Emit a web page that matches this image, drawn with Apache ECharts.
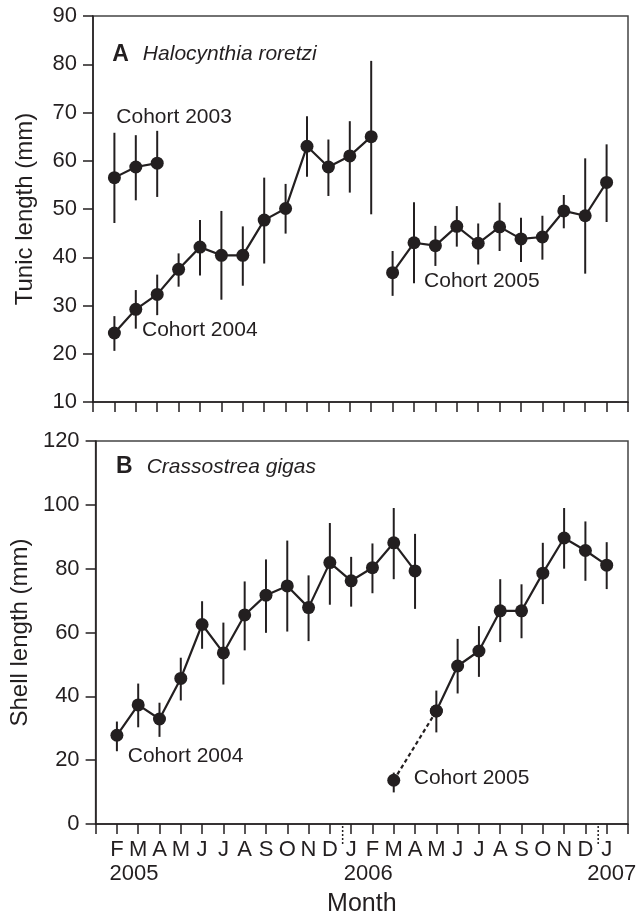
<!DOCTYPE html>
<html>
<head>
<meta charset="utf-8">
<script src="https://cdn.jsdelivr.net/npm/echarts@6/dist/echarts.min.js"></script>
<style>
  html, body { margin: 0; padding: 0; background: #fff; }
  #main { width: 644px; height: 918px; }
</style>
</head>
<body>
<div id="main"></div>
<script>
// month ticks: index 1 = Feb 2005 ... index 24 = Jan 2007
var months = ['F','M','A','M','J','J','A','S','O','N','D','J','F','M','A','M','J','J','A','S','O','N','D','J'];
var years = { 1: '2005', 12: '2006', 24: '2007' };
var yearBreaks = [11.6, 23.6];

// Panel A - Halocynthia roretzi, tunic length (mm)
var c03A_x = [1, 2, 3];
var c03A_mean = [56.5, 58.7, 59.5];
var c03A_hi   = [65.8, 65.3, 66.2];
var c03A_lo   = [47.1, 51.8, 52.5];

var c04A_x = [1, 2, 3, 4, 5, 6, 7, 8, 9, 10, 11, 12, 13];
var c04A_mean = [24.3, 29.2, 32.3, 37.5, 42.1, 40.4, 40.4, 47.7, 50.1, 63.0, 58.7, 61.0, 65.0];
var c04A_hi   = [27.8, 33.2, 36.4, 40.8, 47.7, 49.6, 46.4, 56.5, 55.2, 69.2, 64.4, 68.2, 80.7];
var c04A_lo   = [20.6, 25.2, 28.0, 33.9, 36.2, 31.2, 34.1, 38.7, 44.9, 56.7, 52.7, 53.4, 48.9];

var c05A_x = [14, 15, 16, 17, 18, 19, 20, 21, 22, 23, 24];
var c05A_mean = [36.8, 43.0, 42.4, 46.4, 42.9, 46.3, 43.8, 44.2, 49.6, 48.6, 55.5];
var c05A_hi   = [41.3, 51.4, 46.5, 50.6, 47.0, 51.3, 48.2, 48.6, 52.9, 60.5, 63.4];
var c05A_lo   = [32.0, 34.6, 38.2, 42.2, 38.5, 41.3, 39.0, 39.5, 46.0, 36.6, 47.3];

// Panel B - Crassostrea gigas, shell length (mm)
var c04B_x = [1, 2, 3, 4, 5, 6, 7, 8, 9, 10, 11, 12, 13, 14, 15];
var c04B_mean = [27.8, 37.3, 32.9, 45.6, 62.5, 53.6, 65.5, 71.7, 74.6, 67.8, 81.9, 76.2, 80.3, 88.1, 79.3];
var c04B_hi   = [32.1, 44.0, 38.0, 52.1, 69.8, 63.1, 76.0, 82.9, 88.8, 77.9, 94.3, 83.7, 87.9, 99.0, 90.9];
var c04B_lo   = [22.8, 30.3, 27.3, 38.7, 54.9, 43.7, 54.4, 59.9, 60.3, 57.3, 68.7, 68.1, 72.3, 76.7, 67.4];

var c05B_x = [14, 16, 17, 18, 19, 20, 21, 22, 23, 24];
var c05B_mean = [13.7, 35.4, 49.5, 54.2, 66.8, 66.8, 78.6, 89.6, 85.7, 81.1];
var c05B_hi   = [16.1, 41.8, 58.0, 62.0, 76.7, 75.1, 88.1, 99.0, 94.8, 88.3];
var c05B_lo   = [9.9, 28.7, 40.9, 46.1, 57.0, 58.2, 68.9, 80.0, 76.2, 73.6];

// text labels placed in data coordinates [x, y, text]
var notesA = [[1.09, 69.1, 'Cohort 2003'], [2.29, 24.9, 'Cohort 2004'], [15.47, 35.0, 'Cohort 2005']];
var notesB = [[1.51, 21.3, 'Cohort 2004'], [14.94, 14.5, 'Cohort 2005']];

var ink = '#231f20';
var font = 'Liberation Sans, Arial, Helvetica, sans-serif';

function pts(xs, ys) {
    return xs.map(function (x, i) { return [x, ys[i]]; });
}
function bars(xs, lo, hi) {
    return xs.map(function (x, i) { return [x, lo[i], hi[i]]; });
}

function lineSeries(idx, data, dashed) {
    return {
        type: 'line',
        xAxisIndex: idx, yAxisIndex: idx,
        data: data,
        symbol: 'circle',
        symbolSize: 13,
        itemStyle: { color: ink },
        lineStyle: { color: ink, width: 2.2, type: dashed ? [4, 3] : 'solid' },
        animation: false,
        z: 3
    };
}

function errSeries(idx, data) {
    return {
        type: 'custom',
        xAxisIndex: idx, yAxisIndex: idx,
        data: data,
        encode: { x: 0, y: [1, 2] },
        renderItem: function (params, api) {
            var p1 = api.coord([api.value(0), api.value(1)]);
            var p2 = api.coord([api.value(0), api.value(2)]);
            return {
                type: 'line',
                shape: { x1: p1[0], y1: p1[1], x2: p2[0], y2: p2[1] },
                style: { stroke: ink, lineWidth: 2 }
            };
        },
        animation: false,
        z: 2
    };
}

function noteSeries(idx, notes, rich) {
    return {
        type: 'scatter',
        xAxisIndex: idx, yAxisIndex: idx,
        symbolSize: 0,
        itemStyle: { opacity: 1, color: ink },
        data: notes.map(function (n) { return { value: [n[0], n[1]], name: n[2] }; }),
        label: {
            show: true,
            position: 'right',
            distance: 0,
            formatter: function (p) { return p.name; },
            fontFamily: font,
            fontSize: 21,
            color: ink,
            rich: rich
        },
        silent: true,
        animation: false
    };
}

var titleRich = {
    b: { fontFamily: font, fontSize: 23, fontWeight: 'bold', color: ink },
    i: { fontFamily: font, fontSize: 21, fontStyle: 'italic', color: ink, padding: [0, 0, 0, 14] }
};

function xAxis(idx, withLabels) {
    return {
        type: 'value',
        gridIndex: idx,
        min: 0, max: 25, interval: 1,
        axisLine: { show: true, lineStyle: { color: ink, width: 1.5 } },
        axisTick: { show: true, length: 10, lineStyle: { color: ink, width: 1.5 } },
        splitLine: { show: false },
        name: withLabels ? 'Month' : '',
        nameLocation: 'middle',
        nameGap: 68,
        nameTextStyle: { fontFamily: font, fontSize: 25, color: ink },
        axisLabel: {
            show: withLabels,
            margin: 14,
            formatter: function (v) {
                var m = months[v - 1];
                if (!m) return '';
                var s = '{m|' + m + '}';
                if (years[v]) s += '\n{' + (v === 24 ? 'y2' : 'y1') + '|' + years[v] + '}';
                return s;
            },
            rich: {
                m: { fontFamily: font, fontSize: 22, color: ink, lineHeight: 24 },
                y1: { fontFamily: font, fontSize: 22, color: ink, lineHeight: 24, padding: [0, 0, 0, 34] },
                y2: { fontFamily: font, fontSize: 22, color: ink, lineHeight: 24, padding: [0, 0, 0, 10] }
            }
        }
    };
}

function yAxis(idx, min, max, step, name, gap) {
    return {
        type: 'value',
        gridIndex: idx,
        min: min, max: max, interval: step,
        axisLine: { show: true, lineStyle: { color: ink, width: 1.5 } },
        axisTick: { show: true, length: 10, lineStyle: { color: ink, width: 1.5 } },
        splitLine: { show: false },
        axisLabel: { fontFamily: font, fontSize: 22, color: ink, margin: 16 },
        name: name,
        nameLocation: 'middle',
        nameGap: gap,
        nameTextStyle: { fontFamily: font, fontSize: 24, color: ink }
    };
}

var myChart = echarts.init(document.getElementById('main'));
var option = {
    backgroundColor: '#fff',
    animation: false,
    grid: [
        { left: 93, top: 16, width: 535, height: 386, show: true, borderColor: '#444', borderWidth: 1.5 },
        { left: 93, top: 441, width: 535, height: 386, show: true, borderColor: '#444', borderWidth: 1.5 }
    ],
    xAxis: [xAxis(0, false), xAxis(1, true)],
    yAxis: [
        yAxis(0, 10, 90, 10, 'Tunic length (mm)', 56),
        yAxis(1, 0, 120, 20, 'Shell length (mm)', 60)
    ],
    series: [
        errSeries(0, bars(c03A_x, c03A_lo, c03A_hi)),
        errSeries(0, bars(c04A_x, c04A_lo, c04A_hi)),
        errSeries(0, bars(c05A_x, c05A_lo, c05A_hi)),
        lineSeries(0, pts(c03A_x, c03A_mean)),
        lineSeries(0, pts(c04A_x, c04A_mean)),
        lineSeries(0, pts(c05A_x, c05A_mean)),
        noteSeries(0, notesA),
        noteSeries(0, [[0.9, 82.0, '{b|A}{i|Halocynthia roretzi}']], titleRich),

        errSeries(1, bars(c04B_x, c04B_lo, c04B_hi)),
        errSeries(1, bars(c05B_x, c05B_lo, c05B_hi)),
        lineSeries(1, pts(c04B_x, c04B_mean)),
        lineSeries(1, pts(c05B_x.slice(0, 2), c05B_mean.slice(0, 2)), true),
        lineSeries(1, pts(c05B_x.slice(1), c05B_mean.slice(1))),
        noteSeries(1, notesB),
        noteSeries(1, [[0.96, 111.9, '{b|B}{i|Crassostrea gigas}']], titleRich),

        {
            // dotted year separators below the month axis
            type: 'custom',
            xAxisIndex: 1, yAxisIndex: 1,
            data: yearBreaks.map(function (x) { return [x, 0]; }),
            clip: false,
            renderItem: function (params, api) {
                var p = api.coord([api.value(0), api.value(1)]);
                return {
                    type: 'line',
                    shape: { x1: p[0], y1: p[1] + 2, x2: p[0], y2: p[1] + 22 },
                    style: { stroke: ink, lineWidth: 1.5, lineDash: [2, 2] }
                };
            },
            silent: true,
            animation: false
        }
    ]
};
myChart.setOption(option);
</script>
</body>
</html>
